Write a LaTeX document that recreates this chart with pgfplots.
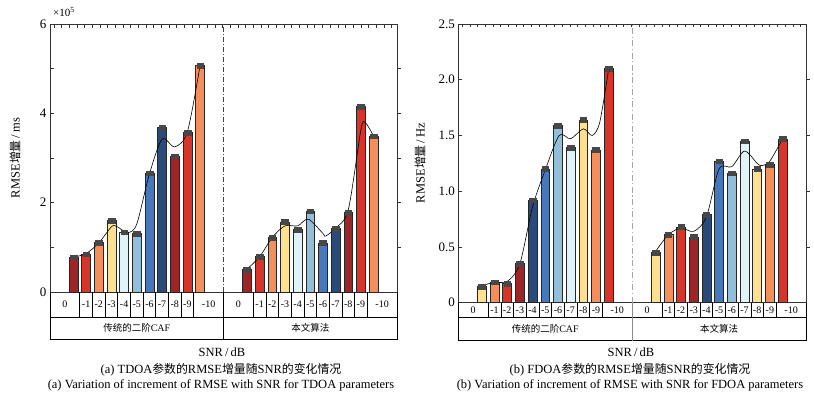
\documentclass[border=0pt]{standalone}
\usepackage{pgfplots}
\pgfplotsset{compat=1.18}
\usepackage{fontspec}
\setmainfont{Liberation Serif}
\newfontfamily\cjk{Noto Sans CJK SC}[Scale=0.95]
\definecolor{cDR}{RGB}{158,36,38}
\definecolor{cR}{RGB}{215,52,42}
\definecolor{cO}{RGB}{244,142,90}
\definecolor{cY}{RGB}{254,224,144}
\definecolor{cP}{RGB}{224,243,248}
\definecolor{cLB}{RGB}{145,191,219}
\definecolor{cB}{RGB}{72,120,188}
\definecolor{cDB}{RGB}{42,74,122}
\newcommand{\bb}[3]{\addplot[ybar, bar width=0.7, bar shift=0pt, fill=#3, draw=black!85, line width=0.5pt, forget plot] coordinates {(#1,#2)};}
\newcommand{\snrtable}[5]{%
 \draw[black, line width=0.6pt] (axis cs:-1.85,0) -- (axis cs:-1.85,#2) -- (axis cs:25.55,#2) -- (axis cs:25.55,0);
 \draw[black, line width=0.6pt] (axis cs:-1.85,#1) -- (axis cs:25.55,#1);
 \draw[#5, line width=0.6pt] (axis cs:11.85,0) -- (axis cs:11.85,#2);
 \pgfplotsinvokeforeach{0.5,1.5,2.5,3.5,4.5,5.5,6.5,7.5,8.5,9.5,14.2,15.2,16.2,17.2,18.2,19.2,20.2,21.2,22.2,23.2}{\draw[black, line width=0.6pt] (axis cs:##1,0) -- (axis cs:##1,#1);}
 \node at (axis cs:-0.675,#3) {0};
 \node at (axis cs:1,#3) {-1}; \node at (axis cs:2,#3) {-2}; \node at (axis cs:3,#3) {-3};
 \node at (axis cs:4,#3) {-4}; \node at (axis cs:5,#3) {-5}; \node at (axis cs:6,#3) {-6};
 \node at (axis cs:7,#3) {-7}; \node at (axis cs:8,#3) {-8}; \node at (axis cs:9,#3) {-9};
 \node at (axis cs:10.675,#3) {-10};
 \node at (axis cs:13.025,#3) {0};
 \node at (axis cs:14.7,#3) {-1}; \node at (axis cs:15.7,#3) {-2}; \node at (axis cs:16.7,#3) {-3};
 \node at (axis cs:17.7,#3) {-4}; \node at (axis cs:18.7,#3) {-5}; \node at (axis cs:19.7,#3) {-6};
 \node at (axis cs:20.7,#3) {-7}; \node at (axis cs:21.7,#3) {-8}; \node at (axis cs:22.7,#3) {-9};
 \node at (axis cs:24.375,#3) {-10};
 \node at (axis cs:5,#4) {{\cjk 传统的二阶}CAF};
 \node at (axis cs:18.7,#4) {\cjk 本文算法};
}
\pgfplotsset{
 panel/.style={
  scale only axis, clip=false, xmin=-1.85, xmax=25.55,
  xtick={-1.55,-0.944,...,25.5}, xticklabels={}, xtick pos=right,
  ytick pos=left, tick align=inside, major tick length=3.5pt, minor tick length=3.5pt,
  axis line style={black!80, line width=0.6pt},
  tick style={black!80, line width=0.5pt},
  tick label style={font=\fontsize{13}{15}\selectfont},
  /pgf/number format/assume math mode=true,
  every node/.append style={font=\fontsize{12.5}{14}\selectfont, inner sep=1pt},
 },
 curve/.style={black, line width=0.6pt, smooth},
 tops/.style={only marks, mark=square*, mark size=3.3pt, mark options={yscale=0.7, fill=black!72, draw=black!72}},
}
\begin{document}
\begin{tikzpicture}
\path[use as bounding box] (0pt,0pt) rectangle (814pt,399pt);
% ---------------- left panel -----------------
\begin{axis}[panel, at={(50pt,107pt)}, anchor=south west, width=347pt, height=268pt,
  ymin=0, ymax=6, ytick={0,2,4,6}, minor ytick={1,3,5}]
\bb{0}{0.78}{cDR}\bb{1}{0.85}{cR}\bb{2}{1.11}{cO}\bb{3}{1.60}{cY}\bb{4}{1.34}{cP}\bb{5}{1.31}{cLB}
\bb{6}{2.66}{cB}\bb{7}{3.68}{cDB}\bb{8}{3.04}{cDR}\bb{9}{3.57}{cR}\bb{10}{5.07}{cO}
\bb{13.7}{0.50}{cDR}\bb{14.7}{0.79}{cR}\bb{15.7}{1.22}{cO}\bb{16.7}{1.57}{cY}\bb{17.7}{1.40}{cP}\bb{18.7}{1.81}{cLB}
\bb{19.7}{1.10}{cB}\bb{20.7}{1.42}{cDB}\bb{21.7}{1.78}{cDR}\bb{22.7}{4.15}{cR}\bb{23.7}{3.49}{cO}
\addplot[curve] coordinates {(0,0.78)(1,0.86)(2,1.10)(3,1.46)(3.4,1.47)(4,1.36)(4.35,1.33)(5,1.52)(6,2.64)(7,3.42)(8,3.25)(9,3.59)(10,5.07)};
\addplot[curve] coordinates {(13.7,0.51)(14.7,0.79)(15.7,1.22)(16.7,1.48)(17.7,1.48)(18.55,1.63)(19.7,1.31)(19.9,1.25)(20.7,1.43)(21.7,1.84)(22.7,3.63)(23.05,3.79)(23.7,3.49)};
\addplot[tops] coordinates {(0,0.78)(1,0.85)(2,1.11)(3,1.60)(4,1.34)(5,1.31)(6,2.66)(7,3.68)(8,3.04)(9,3.57)(10,5.07)
 (13.7,0.50)(14.7,0.79)(15.7,1.22)(16.7,1.57)(17.7,1.40)(18.7,1.81)(19.7,1.10)(20.7,1.42)(21.7,1.78)(22.7,4.15)(23.7,3.49)};
\draw[black!75, line width=0.5pt, dash pattern=on 5pt off 2pt on 1pt off 2pt] (axis cs:11.85,0) -- (axis cs:11.85,6);
\pgfplotsinvokeforeach{1,2,3,4,5}{\draw[black!80, line width=0.5pt] (axis cs:25.55,#1) -- ++(3.5pt,0pt);}
\snrtable{-0.56}{-1.052}{-0.28}{-0.806}{black}
\end{axis}
% ---------------- right panel -----------------
\begin{axis}[panel, at={(458.3pt,96.3pt)}, anchor=south west, width=347.7pt, height=278.7pt,
  ymin=0, ymax=2.5, ytick={0,0.5,1,1.5,2,2.5}, yticklabels={0,0.5,1.0,1.5,2.0,2.5}]
\bb{0}{0.145}{cY}\bb{1}{0.185}{cO}\bb{2}{0.17}{cR}\bb{3}{0.35}{cDR}\bb{4}{0.92}{cDB}\bb{5}{1.20}{cB}
\bb{6}{1.59}{cLB}\bb{7}{1.39}{cP}\bb{8}{1.64}{cY}\bb{9}{1.37}{cO}\bb{10}{2.10}{cR}
\bb{13.7}{0.45}{cY}\bb{14.7}{0.61}{cO}\bb{15.7}{0.68}{cR}\bb{16.7}{0.59}{cDR}\bb{17.7}{0.79}{cDB}\bb{18.7}{1.27}{cB}
\bb{19.7}{1.16}{cLB}\bb{20.7}{1.45}{cP}\bb{21.7}{1.20}{cY}\bb{22.7}{1.24}{cO}\bb{23.7}{1.47}{cR}
\addplot[curve] coordinates {(0,0.15)(1,0.185)(2,0.19)(3,0.35)(4,0.86)(5,1.19)(6.1,1.50)(7,1.47)(8,1.56)(8.7,1.50)(9.3,1.62)(10,2.10)};
\addplot[curve] coordinates {(13.7,0.46)(14.7,0.61)(15.7,0.67)(16.7,0.64)(17.7,0.77)(18.7,1.20)(19.7,1.22)(20.7,1.36)(21.7,1.25)(22.05,1.23)(22.7,1.27)(23.7,1.47)};
\addplot[tops] coordinates {(0,0.145)(1,0.185)(2,0.17)(3,0.35)(4,0.92)(5,1.20)(6,1.59)(7,1.39)(8,1.64)(9,1.37)(10,2.10)
 (13.7,0.45)(14.7,0.61)(15.7,0.68)(16.7,0.59)(17.7,0.79)(18.7,1.27)(19.7,1.16)(20.7,1.45)(21.7,1.20)(22.7,1.24)(23.7,1.47)};
\draw[black!35, line width=1.1pt, dash pattern=on 6pt off 2.5pt on 1.2pt off 2.5pt] (axis cs:11.85,0) -- (axis cs:11.85,2.5);
\pgfplotsinvokeforeach{0.5,1,1.5,2}{\draw[black!80, line width=0.5pt] (axis cs:25.55,#1) -- ++(3.5pt,0pt);}
\snrtable{-0.1346}{-0.341}{-0.0673}{-0.238}{black!45}
\end{axis}
% ---------------- labels -----------------
\begin{scope}[every node/.style={font=\fontsize{12.5}{14}\selectfont}]
\node[font=\fontsize{11}{11}\selectfont] at (64pt,387pt) {×10\textsuperscript{5}};
\node[rotate=90] at (15pt,241pt) {RMSE{\cjk 增量}\,/\,ms};
\node[rotate=90] at (420pt,236pt) {RMSE{\cjk 增量}\,/\,Hz};
\node at (222pt,47pt) {SNR\,/\,dB};
\node at (631pt,47pt) {SNR\,/\,dB};
\node at (221pt,29pt) {(a) TDOA{\cjk 参数的}RMSE{\cjk 增量随}SNR{\cjk 的变化情况}};
\node at (221pt,14pt) {(a) Variation of increment of RMSE with SNR for TDOA parameters};
\node at (630pt,29pt) {(b) FDOA{\cjk 参数的}RMSE{\cjk 增量随}SNR{\cjk 的变化情况}};
\node at (630pt,14pt) {(b) Variation of increment of RMSE with SNR for FDOA parameters};
\end{scope}
\end{tikzpicture}
\end{document}
